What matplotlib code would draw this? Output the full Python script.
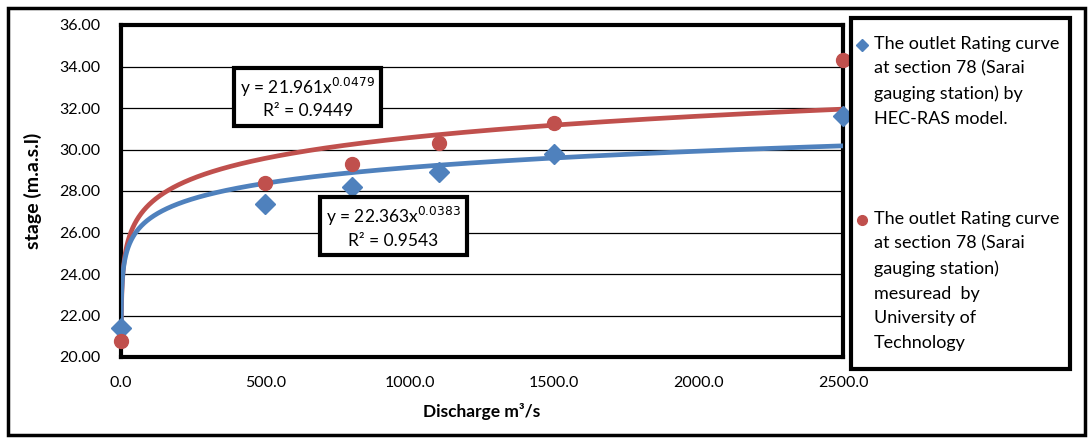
import matplotlib
matplotlib.use('Agg')
import matplotlib.pyplot as plt
import numpy as np
from matplotlib.patches import Rectangle
from matplotlib.lines import Line2D

## data
discharge = [0, 500, 800, 1100, 1500, 2500]
stage_hecras = [21.4, 27.35, 28.2, 28.9, 29.8, 31.6]
stage_measured = [20.75, 28.4, 29.3, 30.3, 31.3, 34.3]

## power trendline parameters (y = a * x^b, R^2)
fit_hecras = (22.363, 0.0383, 0.9543)
fit_measured = (21.961, 0.0479, 0.9449)

xticks = [0, 500, 1000, 1500, 2000, 2500]
yticks = [20, 22, 24, 26, 28, 30, 32, 34, 36]

label_hecras = 'The outlet Rating curve\nat section 78 (Sarai\ngauging station) by\nHEC-RAS model.'
label_measured = ('The outlet Rating curve\nat section 78 (Sarai\ngauging station)\n'
                  'mesuread  by\nUniversity of\nTechnology')

blue = '#4F81BD'
red = '#C0504D'

plt.rcParams['font.family'] = ['Lato', 'DejaVu Sans']

W, H = 1092, 443
fig = plt.figure(figsize=(W / 100, H / 100), dpi=100)

def fx(px):
    return px / W

def fy(py):
    return 1 - py / H

## outer frame
fig.add_artist(Rectangle((fx(8), fy(435)), fx(1077), (435 - 8) / H, transform=fig.transFigure,
                         fill=False, edgecolor='black', linewidth=2.5))

ax = fig.add_axes([fx(121), fy(357), fx(843 - 121), (357 - 25) / H])
ax.set_xlim(0, 2500)
ax.set_ylim(20, 36)
ax.set_xticks(xticks)
ax.set_yticks(yticks)
ax.set_xticklabels([f'{v:.1f}' for v in xticks], fontsize=11.5)
ax.set_yticklabels([f'{v:.2f}' for v in yticks], fontsize=11.5)
ax.tick_params(length=0)
ax.tick_params(axis='y', pad=15)
ax.tick_params(axis='x', pad=14)
ax.grid(axis='y', color='black', linewidth=0.9)
ax.set_axisbelow(True)
for s in ax.spines.values():
    s.set_linewidth(3)

## trendlines
xs = np.linspace(0.3, 2500, 4000)
ax.plot(xs, fit_measured[0] * xs ** fit_measured[1], color=red, linewidth=3.4, zorder=3)
ax.plot(xs, fit_hecras[0] * xs ** fit_hecras[1], color=blue, linewidth=3.4, zorder=3)

## points
ax.plot(discharge, stage_hecras, linestyle='none', marker='D', markersize=10,
        color=blue, clip_on=False, zorder=4)
ax.plot(discharge, stage_measured, linestyle='none', marker='o', markersize=10,
        color=red, clip_on=False, zorder=4)

ax.set_xlabel('Discharge m³/s', fontsize=12.5, fontweight='bold', labelpad=9)
ax.set_ylabel('stage (m.a.s.l)', fontsize=14, fontweight='bold', labelpad=12)

## equation boxes
box = dict(boxstyle='square,pad=0.35', facecolor='white', edgecolor='black', linewidth=3)
ax.text(647, 32.5,
        f'y = {fit_measured[0]:.3f}x$^{{{fit_measured[1]}}}$\nR² = {fit_measured[2]:.4f}',
        ha='center', va='center', fontsize=12.5, bbox=box, zorder=6, linespacing=1.35)
ax.text(942, 26.27,
        f'y = {fit_hecras[0]:.3f}x$^{{{fit_hecras[1]}}}$\nR² = {fit_hecras[2]:.4f}',
        ha='center', va='center', fontsize=12.5, bbox=box, zorder=6, linespacing=1.35)

## legend box drawn by hand
fig.add_artist(Rectangle((fx(851), fy(369)), fx(1070 - 851), (369 - 18) / H, transform=fig.transFigure,
                         facecolor='white', edgecolor='black', linewidth=3, zorder=10))
fig.add_artist(Line2D([fx(862)], [fy(45)], marker='D', markersize=6, color=blue,
                      transform=fig.transFigure, zorder=11))
fig.add_artist(Line2D([fx(862)], [fy(220)], marker='o', markersize=7, color=red,
                      transform=fig.transFigure, zorder=11))
fig.text(fx(874), fy(36), label_hecras, ha='left', va='top', fontsize=13,
         linespacing=1.66, zorder=11)
fig.text(fx(874), fy(211), label_measured, ha='left', va='top', fontsize=13,
         linespacing=1.66, zorder=11)

fig.savefig('out.png', dpi=100)
